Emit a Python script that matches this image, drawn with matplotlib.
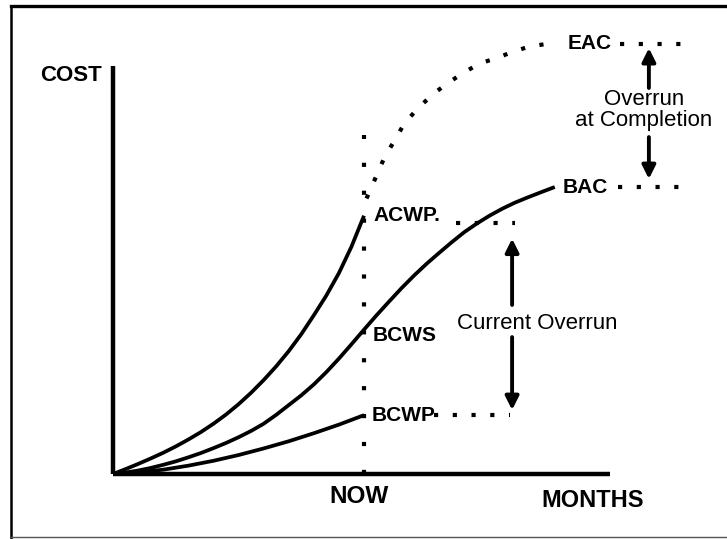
import matplotlib.pyplot as plt
from matplotlib.lines import Line2D

# chart values (months on x, cost on y)
now_month = 10
x_axis_end = 19.8
y_axis_top = 142

acwp_x = [0, 0.5, 1, 1.5, 2, 2.5, 3, 3.5, 4, 4.5, 5, 5.5, 6, 6.5, 7, 7.5, 8, 8.5, 9, 9.5, 10]
acwp_y = [0, 1.7, 3.5, 5.4, 7.4, 9.6, 12.0, 14.6, 17.5, 20.7, 24.3, 28.3, 32.7, 37.5, 42.8,
          48.7, 55.3, 62.2, 70.0, 79.2, 90.0]

bcws_x = [0, 0.5, 1, 1.5, 2, 2.5, 3, 3.5, 4, 4.5, 5, 5.5, 6, 6.5, 7, 7.5, 8, 8.5, 9, 9.5,
          10, 10.5, 11, 11.5, 12, 12.5, 13, 13.5, 14, 14.5, 15, 15.5, 16, 16.5, 17, 17.6]
bcws_y = [0, 0.5, 1.2, 2.1, 3.2, 4.4, 5.8, 7.3, 9.0, 10.8, 12.8, 15.0, 17.5, 20.6, 24.0,
          27.4, 31.2, 35.5, 40.2, 45.2, 50.3, 55.3, 60.1, 64.8, 69.2, 73.3, 77.1, 80.8,
          84.3, 87.3, 90.0, 92.4, 94.5, 96.3, 98.0, 100]

bcwp_x = [0, 1, 2, 3, 4, 5, 6, 7, 8, 9, 10]
bcwp_y = [0, 0.6, 1.5, 2.9, 4.6, 6.6, 8.9, 11.4, 14.2, 17.2, 20.5]

eac_x = [10.1, 10.5, 10.8, 11.2, 11.6, 12.1, 12.7, 13.3, 14.0, 14.6, 15.3, 15.9, 16.6, 17.4]
eac_y = [96, 104, 110, 116, 122, 127, 132, 136, 140, 143, 145, 147, 149, 150]

acwp_val, bcws_val, bcwp_val = 90, 48.4, 20.5
bac_val, eac_val = 100, 150

plt.rcParams['font.family'] = ['Liberation Sans', 'DejaVu Sans']

fig = plt.figure(figsize=(7.27, 5.39), dpi=100)
ax = fig.add_axes([0, 0, 1, 1])
ax.set_xlim(-4.502, 24.462)
ax.set_ylim(-22.65, 165.16)
ax.axis('off')

# frame around the picture
fig.add_artist(Line2D([10.5 / 727, 1], [1 - 5.5 / 539] * 2, transform=fig.transFigure, color='black', lw=2.4))
fig.add_artist(Line2D([10.5 / 727] * 2, [0, 1 - 5.5 / 539], transform=fig.transFigure, color='black', lw=1.8))
fig.add_artist(Line2D([10.5 / 727, 1], [1 - 537 / 539] * 2, transform=fig.transFigure, color='#555555', lw=1.0))

# axes
ax.plot([0, 0], [0, y_axis_top], color='black', lw=3.2, solid_capstyle='butt')
ax.plot([0, x_axis_end], [0, 0], color='black', lw=3.2, solid_capstyle='butt')

# curves
for xs, ys in [(acwp_x, acwp_y), (bcws_x, bcws_y), (bcwp_x, bcwp_y)]:
    ax.plot(xs, ys, color='black', lw=2.7, solid_capstyle='butt', solid_joinstyle='round')

# dotted lines
dots = (0, (1, 3.5))
ax.plot([now_month, now_month], [0, 118.2], color='black', lw=3, linestyle=(0, (1, 5.7)))
ax.plot(eac_x, eac_y, color='black', lw=3, linestyle=dots)
ax.plot([20.2, 23.1], [eac_val, eac_val], color='black', lw=3, linestyle=dots)
ax.plot([20.1, 23.0], [bac_val, bac_val], color='black', lw=3, linestyle=dots)
ax.plot([13.65, 16.0], [acwp_val - 2.5, acwp_val - 2.5], color='black', lw=3, linestyle=dots)
ax.plot([12.8, 15.8], [bcwp_val, bcwp_val], color='black', lw=3, linestyle=dots)

# labels
lab = dict(fontsize=15, ha='left', va='center', fontweight='bold')
ax.text(10.36, acwp_val, 'ACWP.', **lab)
ax.text(10.36, bcws_val, 'BCWS', **lab)
ax.text(10.3, bcwp_val, 'BCWP', **lab)
ax.text(17.9, bac_val, 'BAC', **lab)
ax.text(18.1, eac_val, 'EAC', **lab)

ax.text(-1.69, 138.8, 'COST', fontsize=16, fontweight='bold', ha='center', va='center')
ax.text(9.8, -8.0, 'NOW', fontsize=17.5, fontweight='bold', ha='center', va='center')
ax.text(19.1, -9.1, 'MONTHS', fontsize=17, fontweight='bold', ha='center', va='center')

# overrun arrows
arrow = dict(arrowstyle='-|>', lw=2.8, color='black', mutation_scale=20, shrinkA=0, shrinkB=0)
ax.annotate('', xy=(15.9, 82), xytext=(15.9, 58.9), arrowprops=arrow)
ax.annotate('', xy=(15.9, 22.3), xytext=(15.9, 47.7), arrowprops=arrow)
ax.text(16.9, 52.6, 'Current Overrun', fontsize=16, ha='center', va='center')

ax.annotate('', xy=(21.35, 148.4), xytext=(21.35, 134.5), arrowprops=arrow)
ax.annotate('', xy=(21.35, 102.8), xytext=(21.35, 117.4), arrowprops=arrow)
ax.text(21.15, 127, 'Overrun\nat Completion', fontsize=16, ha='center', va='center', linespacing=1.0)

fig.savefig('out.png', dpi=100)
